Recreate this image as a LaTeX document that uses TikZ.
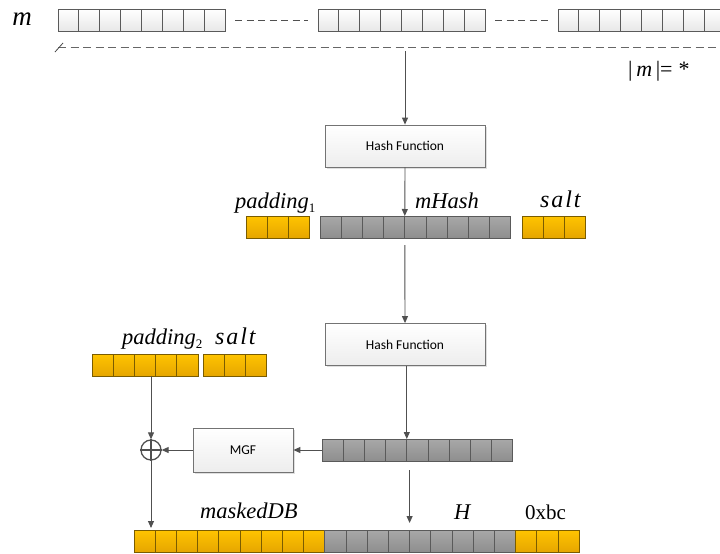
\documentclass[tikz,border=0pt]{standalone}
\usepackage{fontspec}
\setmainfont{Liberation Serif}
\newfontfamily\boxfont{Carlito}
\usetikzlibrary{arrows.meta,shadows,calc}

\definecolor{cellline}{HTML}{5A5A5A}
\definecolor{goldline}{HTML}{7A5C00}
\definecolor{goldtop}{HTML}{FFC400}
\definecolor{goldbot}{HTML}{E6A600}
\definecolor{greytop}{HTML}{A8A8A8}
\definecolor{greybot}{HTML}{8E8E8E}
\definecolor{wiregrey}{HTML}{505050}

% one row of n cells: [width]{style}{name}{x of left edge}{y}{n}
\newcommand{\cellrow}[6][21.2]{%
	\foreach \i in {1,...,#6}
		\node[#2, minimum width=#1pt] (#3\i) at ({#4+(\i-0.5)*#1},#5) {};}

\begin{document}
\begin{tikzpicture}[x=1pt,y=-1pt,
	cell/.style={draw=cellline, line width=0.9pt, minimum height=22pt, inner sep=0pt, outer sep=0pt},
	whitecell/.style={cell, top color=white, bottom color=black!9},
	greycell/.style={cell, top color=greytop, bottom color=greybot},
	goldcell/.style={cell, draw=goldline, top color=goldtop, bottom color=goldbot},
	funcbox/.style={draw=black!55, line width=0.8pt, top color=white, bottom color=black!7,
		minimum width=160pt, minimum height=42pt, font=\boxfont\fontsize{13.5}{13.5}\selectfont,
		drop shadow={shadow xshift=1.5pt, shadow yshift=-1.5pt, opacity=0.25}},
	lbl/.style={inner sep=0pt, font=\fontsize{22.5}{22.5}\selectfont\itshape},
	saltlbl/.style={inner sep=0pt, font=\fontsize{24}{24}\selectfont\itshape\addfontfeature{LetterSpace=8}},
	arr/.style={draw=wiregrey, line width=0.9pt, -{Triangle[width=6pt,length=7pt]}}]

	\useasboundingbox (0,0) rectangle (720,554);

	% message m
	\node[lbl, anchor=base, font=\fontsize{27}{27}\selectfont\itshape] (mlab) at (22,25) {m};
	\cellrow[20.9]{whitecell}{ma}{58}{20}{8}
	\cellrow[20.9]{whitecell}{mb}{318}{20}{8}
	\cellrow[20.9]{whitecell}{mc}{558}{20}{8}
	\draw[wiregrey, line width=0.9pt, dash pattern=on 7pt off 4.5pt] ([xshift=10pt]ma8.east) -- ([xshift=-10pt]mb1.west);
	\draw[wiregrey, line width=0.9pt, dash pattern=on 7pt off 4.5pt] ([xshift=10pt]mb8.east) -- ([xshift=-10pt]mc1.west);

	% length of m
	\coordinate (lenL) at (58,47);
	\coordinate (lenR) at (722,47);
	\draw[black!60, line width=0.9pt, dash pattern=on 8pt off 4.5pt] (lenL) -- (lenR);
	\draw[black!70, line width=0.8pt] ($(lenL)+(-3,5)$) -- ($(lenL)+(5,-4)$);
	\node[anchor=base west, inner sep=0pt, font=\fontsize{22}{22}\selectfont] (mlen) at (628,76) {|\,\textit{m}\,|=\;*};

	% first hash
	\coordinate (tapm) at (405,51);
	\node[funcbox] (hash1) at (405,146) {Hash Function};
	\draw[arr] (tapm) -- (hash1.north);

	\cellrow[21.3]{goldcell}{pa}{246}{227}{3}
	\cellrow{greycell}{mh}{320}{227}{9}
	\cellrow[21.3]{goldcell}{sa}{522}{227}{3}
	\node[lbl, anchor=base west] (pad1lab) at (235,208) {padding\raisebox{-4pt}{\upshape\fontsize{13}{13}\selectfont 1}};
	\node[lbl, anchor=base west] (mhlab) at (415,208) {mHash};
	\node[saltlbl, anchor=base west] (salt1lab) at (540,207) {salt};
	\draw[arr] (hash1.south) -- (mh4.north east);

	% second hash
	\node[funcbox] (hash2) at (405,344.5) {Hash Function};
	\draw[arr, shorten <=7pt] (mh4.south east) -- (hash2.north);

	\cellrow{greycell}{dm}{322}{450}{9}
	\draw[arr] (dm4.north east |- hash2.south) -- (dm4.north east);

	% MGF and xor
	\node[funcbox, minimum width=100pt, minimum height=44pt] (mgf) at (243,450) {MGF};
	\node[circle, draw=wiregrey, line width=1.3pt, minimum size=20pt, inner sep=0pt] (xor) at (151,450) {};
	\draw[wiregrey, line width=1.3pt] (xor.north) -- (xor.south) (xor.west) -- (xor.east);
	\draw[arr] (dm1.west) -- (mgf.east);
	\draw[arr] (mgf.west) -- (xor.east);

	\cellrow{goldcell}{pb}{92}{365}{5}
	\cellrow[21.3]{goldcell}{sb}{203}{365}{3}
	\node[lbl, anchor=base west] (pad2lab) at (122,344) {padding\raisebox{-4pt}{\upshape\fontsize{13}{13}\selectfont 2}};
	\node[saltlbl, anchor=base west] (salt2lab) at (215,344) {salt};
	\draw[arr] (xor.north |- pb3.south) -- (xor.north);

	% output
	\cellrow{goldcell}{mk}{134}{541}{9}
	\cellrow{greycell}{mg}{324.8}{541}{9}
	\cellrow[21.3]{goldcell}{bc}{515.6}{541}{3}
	\node[lbl, anchor=base west] (mklab) at (200,518) {maskedDB};
	\node[lbl, anchor=base west] (hlab) at (454,519) {H};
	\node[lbl, anchor=base west, font=\fontsize{21}{21}\selectfont] (bclab) at (525,519) {0xbc};
	\draw[arr, shorten >=2pt] (xor.south) -- (xor.south |- mk1.north);
	\draw[arr, shorten <=9pt, shorten >=7pt] (mg4.north east |- dm4.south) -- (mg4.north east);

\end{tikzpicture}
\end{document}
